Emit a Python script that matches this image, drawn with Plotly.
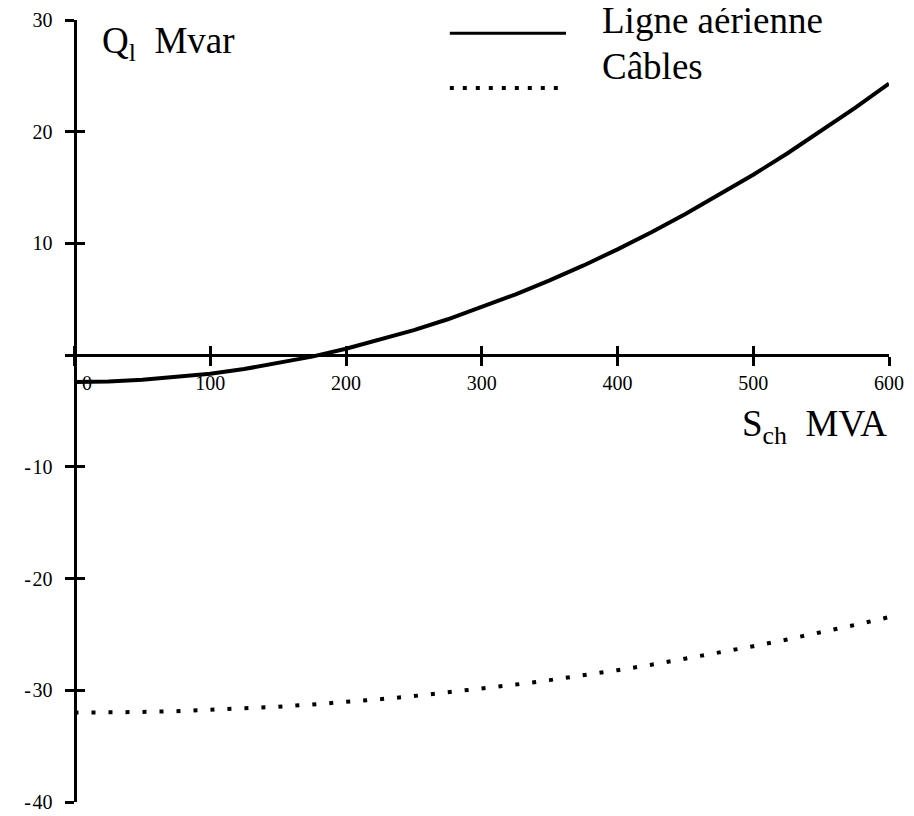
import plotly.graph_objects as go

# ---- data ----
s_mva = [0, 25, 50, 75, 100, 125, 150, 175, 200, 225, 250, 275, 300,
         325, 350, 375, 400, 425, 450, 475, 500, 525, 550, 575, 600]
q_ligne = [-2.40, -2.35, -2.21, -1.98, -1.66, -1.24, -0.73, -0.13, 0.57,
           1.36, 2.24, 3.21, 4.28, 5.44, 6.69, 8.03, 9.47, 11.00, 12.63,
           14.34, 16.15, 18.05, 20.05, 22.13, 24.31]
q_cables = [-32.00, -31.99, -31.94, -31.87, -31.76, -31.63, -31.47, -31.27,
            -31.05, -30.80, -30.52, -30.20, -29.86, -29.49, -29.09, -28.66,
            -28.20, -27.71, -27.19, -26.64, -26.06, -25.45, -24.82, -24.15,
            -23.45]

x_tickvals = [0, 100, 200, 300, 400, 500, 600]
x_ticktext = ["\u00a0" * 5 + "0", "100", "200", "300", "400", "500", "600"]
y_tickvals = [30, 20, 10, -10, -20, -30, -40]
y_ticktext = ["30", "20", "10", "-\u200a10", "-\u200a20", "-\u200a30", "-\u200a40"]

x_range = [-7, 600]
y_range = [-40, 30]

FONT = "Liberation Serif"
TICK_SIZE = 20
LABEL_SIZE = 37

fig = go.Figure()
fig.add_trace(go.Scatter(x=s_mva, y=q_ligne, mode="lines", name="Ligne aérienne",
                         line=dict(color="black", width=4), showlegend=False,
                         xaxis="x", yaxis="y"))
fig.add_trace(go.Scatter(x=s_mva, y=q_cables, mode="lines", name="Câbles",
                         line=dict(color="black", width=4, dash="4px,13px"),
                         showlegend=False, xaxis="x2", yaxis="y2"))

x0_frac = (0 - x_range[0]) / (x_range[1] - x_range[0])
y0_frac = (0 - y_range[0]) / (y_range[1] - y_range[0])

common_x = dict(range=x_range, showgrid=False, zeroline=False, automargin=False,
                tickvals=x_tickvals, tickwidth=3, ticklen=9, tickcolor="black",
                fixedrange=True)
common_y = dict(range=y_range, showgrid=False, zeroline=False, automargin=False,
                tickvals=y_tickvals, tickwidth=3, ticklen=9, tickcolor="black",
                fixedrange=True)

# margins compensate the page's default 8px body margin
fig.update_layout(
    width=914, height=816,
    margin=dict(l=57, r=33, t=12, b=22, autoexpand=False),
    plot_bgcolor="white", paper_bgcolor="white",
    font=dict(family=FONT, color="black"),
    xaxis=dict(**common_x, anchor="free", position=y0_frac, showline=True,
               linecolor="black", linewidth=3, ticks="outside",
               ticktext=x_ticktext, tickfont=dict(size=TICK_SIZE, family=FONT),
               ticklabelstandoff=0),
    xaxis2=dict(**common_x, overlaying="x", anchor="free", position=y0_frac,
                showline=False, ticks="inside", showticklabels=False),
    yaxis=dict(**common_y, anchor="free", position=x0_frac, showline=True,
               linecolor="black", linewidth=3, ticks="outside",
               ticktext=y_ticktext, tickfont=dict(size=TICK_SIZE, family=FONT),
               ticklabelstandoff=8),
    yaxis2=dict(**common_y, overlaying="y", anchor="free", position=x0_frac,
                showline=False, ticks="inside", showticklabels=False),
)

# legend drawn manually (long samples)
fig.add_shape(type="line", xref="paper", yref="paper", x0=0.467, x1=0.608,
              y0=0.983, y1=0.983, line=dict(color="black", width=3))
fig.add_shape(type="line", xref="paper", yref="paper", x0=0.467, x1=0.608,
              y0=0.913, y1=0.913, line=dict(color="black", width=4, dash="4px,9px"))
fig.add_annotation(text="Ligne aérienne", xref="paper", yref="paper",
                   x=0.649, y=1.0, xanchor="left", yanchor="middle",
                   showarrow=False, font=dict(size=LABEL_SIZE, family=FONT))
fig.add_annotation(text="Câbles", xref="paper", yref="paper",
                   x=0.649, y=0.94, xanchor="left", yanchor="middle",
                   showarrow=False, font=dict(size=LABEL_SIZE, family=FONT))
fig.add_annotation(text="Q<sub>l</sub>  Mvar", xref="paper", yref="paper",
                   x=0.0425, y=0.97, xanchor="left", yanchor="middle",
                   showarrow=False, font=dict(size=LABEL_SIZE, family=FONT))
fig.add_annotation(text="S<sub>ch</sub>  MVA", xref="paper", yref="paper",
                   x=1.0, y=0.48, xanchor="right", yanchor="middle",
                   showarrow=False, font=dict(size=LABEL_SIZE, family=FONT))

fig.write_html("out.html")
